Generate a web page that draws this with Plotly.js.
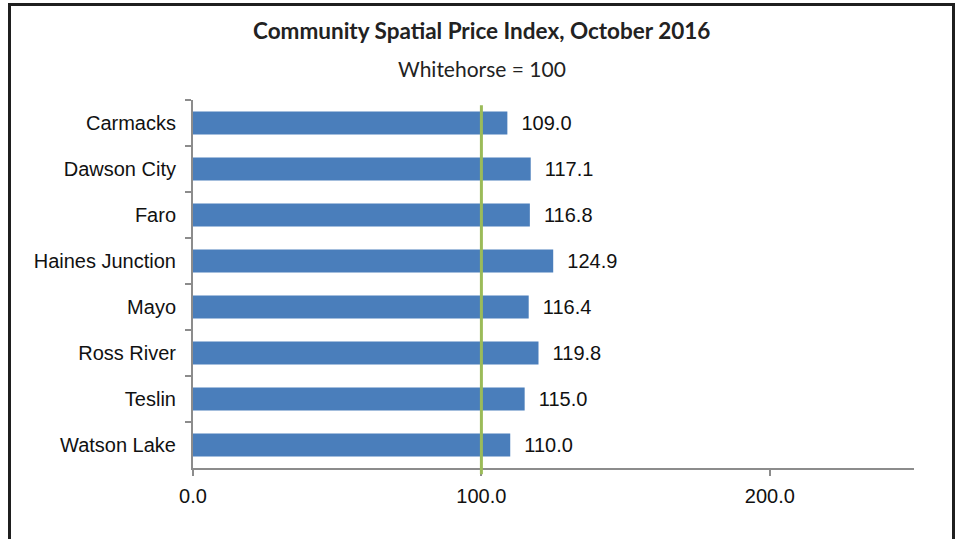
<!DOCTYPE html>
<html>
<head>
<meta charset="utf-8">
<script src="https://cdn.plot.ly/plotly-3.0.1.min.js"></script>
<style>
html,body{margin:0;padding:0;background:#fff;overflow:hidden;}
#wrap{position:relative;width:956px;height:539px;overflow:hidden;}
#chart{position:absolute;left:0;top:0;width:956px;height:539px;}
#frame{position:absolute;left:8px;top:3px;width:941px;height:600px;border:3px solid #1f1f1f;pointer-events:none;}
</style>
</head>
<body>
<div id="wrap"><div id="chart"></div><div id="frame"></div></div>
<script>
const communities = ["Carmacks","Dawson City","Faro","Haines Junction","Mayo","Ross River","Teslin","Watson Lake"];
const indexValues = [109.0,117.1,116.8,124.9,116.4,119.8,115.0,110.0];
const referenceValue = 100;
const xTicks = [0,100,200];
const xTickLabels = ["0.0","100.0","200.0"];

const trace = {
  type: "bar",
  orientation: "h",
  y: communities,
  x: indexValues,
  marker: {color: "#4a7ebb", line: {width: 0}},
  text: indexValues.map(v => "\u00a0\u00a0" + v.toFixed(1)),
  textposition: "outside",
  cliponaxis: false,
  textfont: {family: "Liberation Sans, Arial, sans-serif", size: 20, color: "#111"},
  hoverinfo: "none"
};

const layout = {
  width: 956, height: 539,
  margin: {l: 193, r: 42, t: 100, b: 71},
  paper_bgcolor: "rgba(0,0,0,0)",
  plot_bgcolor: "rgba(0,0,0,0)",
  showlegend: false,
  bargap: 0.5,
  font: {family: "Liberation Sans, Arial, sans-serif", size: 20, color: "#111"},
  xaxis: {
    range: [0, 250],
    tickvals: xTicks, ticktext: xTickLabels,
    showgrid: false, zeroline: false,
    showline: true, linecolor: "#8c8c8c", linewidth: 2,
    ticks: "outside", ticklen: 6, tickwidth: 2, tickcolor: "#8c8c8c",
    ticklabelstandoff: 3,
    tickfont: {size: 20}
  },
  yaxis: {
    type: "category",
    autorange: "reversed",
    showgrid: false, zeroline: false,
    showline: true, linecolor: "#8c8c8c", linewidth: 2,
    ticks: "outside", tickson: "boundaries", ticklen: 6, tickwidth: 2, tickcolor: "#8c8c8c",
    ticklabelstandoff: 11,
    tickfont: {size: 20}
  },
  shapes: [{
    type: "line", xref: "x", yref: "paper",
    x0: referenceValue, x1: referenceValue, y0: -0.017, y1: 0.986,
    line: {color: "#9bbb59", width: 3}
  }],
  annotations: [
    {text: "<b>Community Spatial Price Index, October 2016</b>", xref: "paper", yref: "paper",
     x: 0.4, y: 1, showarrow: false,
     xanchor: "center", yanchor: "middle",
     font: {family: "Lato, Open Sans, sans-serif", size: 22.5, color: "#222"}},
    {text: "Whitehorse = 100", xref: "paper", yref: "paper", x: 0.401, y: 1,
     showarrow: false, xanchor: "center", yanchor: "middle",
     font: {family: "Lato, Open Sans, sans-serif", size: 21, color: "#222"}}
  ]
};
layout.annotations[0].yshift = 100 - 30;
layout.annotations[1].yshift = 100 - 68;

Plotly.newPlot("chart", [trace], layout, {displayModeBar: false, staticPlot: true});
</script>
</body>
</html>
